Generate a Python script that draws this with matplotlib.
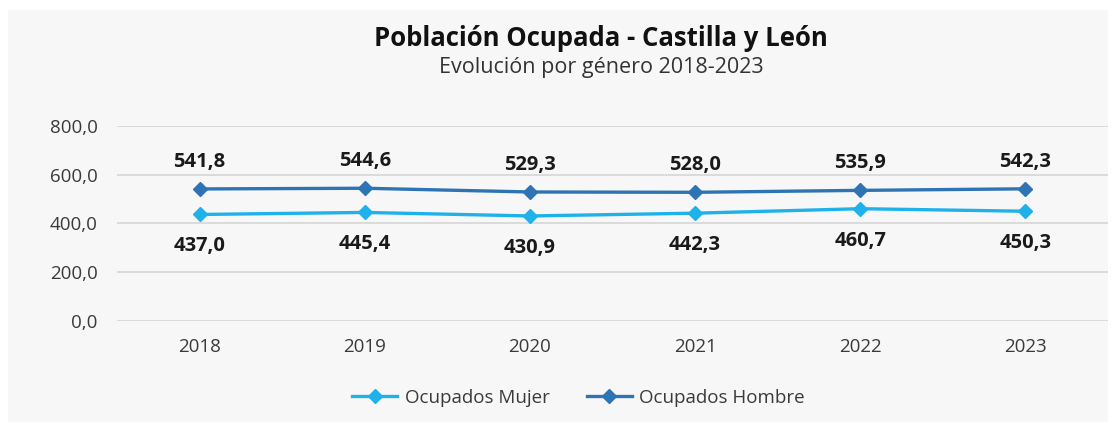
import matplotlib.pyplot as plt
from matplotlib.patches import Rectangle

plt.rcParams['font.family'] = ['Open Sans', 'DejaVu Sans']

years = ['2018', '2019', '2020', '2021', '2022', '2023']
mujer = [437.0, 445.4, 430.9, 442.3, 460.7, 450.3]
hombre = [541.8, 544.6, 529.3, 528.0, 535.9, 542.3]
yticks = [0, 200, 400, 600, 800]

c_mujer = '#1fb2ea'
c_hombre = '#2e74b5'

fig = plt.figure(figsize=(11.17, 4.25), dpi=100)
fig.patch.set_facecolor('white')
fig.patches.append(Rectangle((8 / 1117, 1 - 422 / 425), 1100 / 1117, 412 / 425,
                             transform=fig.transFigure, facecolor='#f7f7f7',
                             edgecolor='none', zorder=-1))

ax = fig.add_axes([117 / 1117, 1 - 321 / 425, 991 / 1117, 195 / 425])
ax.set_facecolor('none')

x = range(len(years))
ax.plot(x, mujer, color=c_mujer, lw=2.4, marker='D', ms=7, label='Ocupados Mujer')
ax.plot(x, hombre, color=c_hombre, lw=2.4, marker='D', ms=7, label='Ocupados Hombre')

for i in x:
    ax.annotate(f"{hombre[i]:.1f}".replace('.', ','), (i, hombre[i]), xytext=(0, 19.5),
                textcoords='offset points', ha='center', va='center',
                fontsize=14.5, fontweight='bold', color='#1a1a1a')
    ax.annotate(f"{mujer[i]:.1f}".replace('.', ','), (i, mujer[i]), xytext=(0, -23),
                textcoords='offset points', ha='center', va='center',
                fontsize=14.5, fontweight='bold', color='#1a1a1a')

ax.set_xlim(-0.5, len(years) - 0.5)
ax.set_ylim(0, 800)
ax.set_yticks(yticks)
ax.set_yticklabels([f"{v:.1f}".replace('.', ',') for v in yticks])
ax.set_xticks(list(x))
ax.set_xticklabels(years)
ax.tick_params(length=0, labelsize=13.5, labelcolor='#3a3a3a', pad=12)
ax.tick_params(axis='y', pad=14)
ax.grid(axis='y', color='#d9d9d9', lw=1.3)
ax.set_axisbelow(True)
for s in ax.spines.values():
    s.set_visible(False)

fig.text(0.538, 1 - 38 / 425, 'Población Ocupada - Castilla y León', ha='center',
         va='center', fontsize=18.5, fontweight='bold', color='#111111')
fig.text(0.538, 1 - 68 / 425, 'Evolución por género 2018-2023', ha='center',
         va='center', fontsize=15.5, color='#333333')

fig.legend(loc='center', bbox_to_anchor=(0.518, 1 - 398 / 425), ncol=2, frameon=False,
           fontsize=13.5, labelcolor='#3a3a3a', handlelength=2.4, handletextpad=0.4,
           columnspacing=2.0)

fig.savefig('out.png', dpi=100)
